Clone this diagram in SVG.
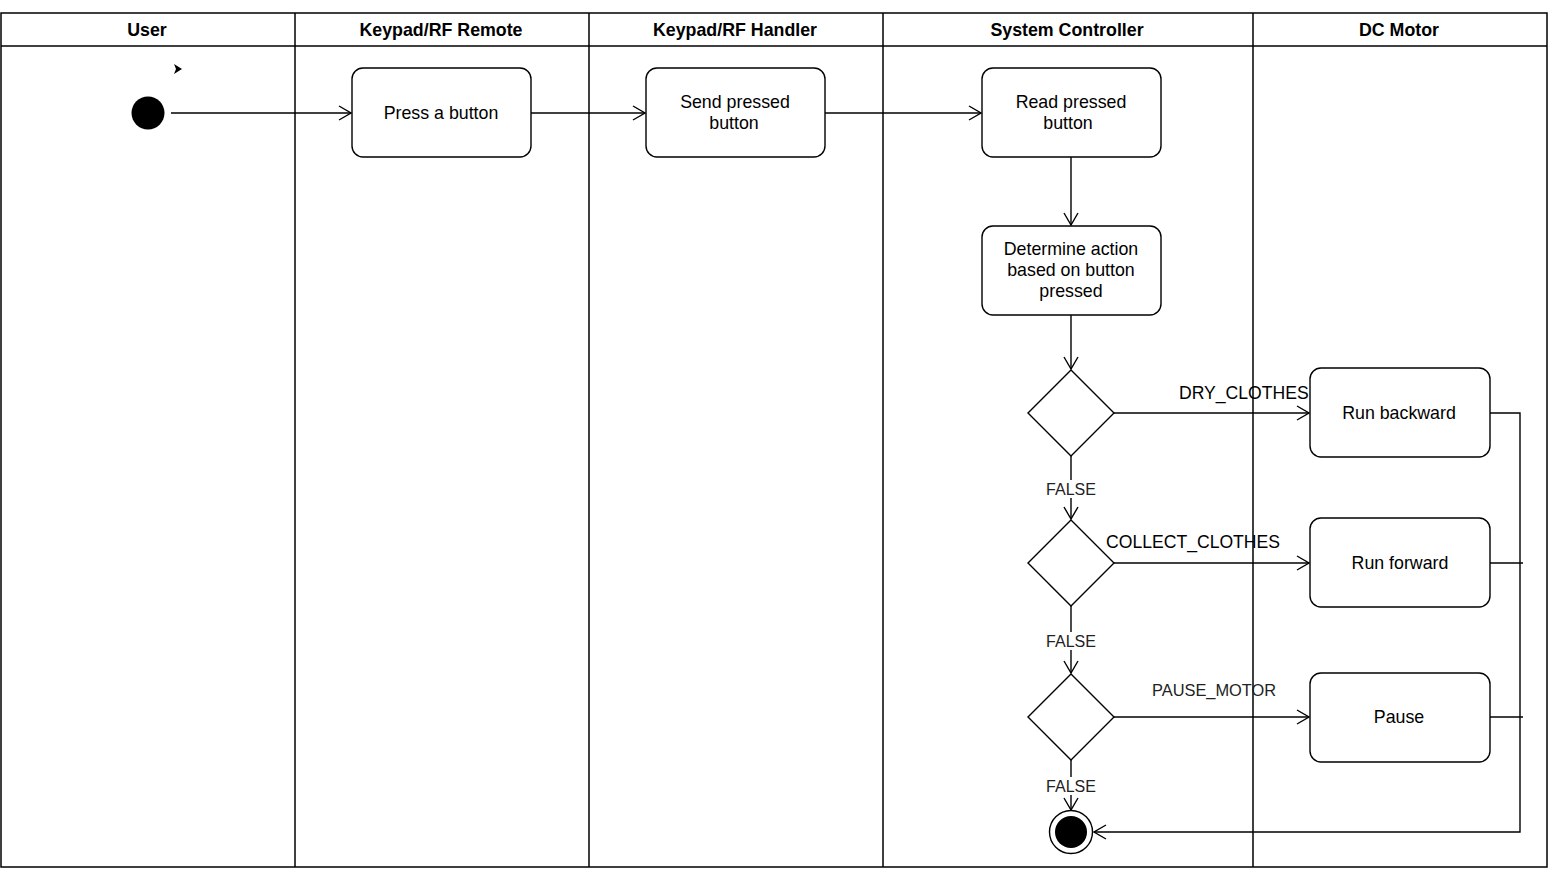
<svg xmlns="http://www.w3.org/2000/svg" width="1548" height="869" viewBox="0 0 1548 869">
  <style>
    .lane { fill: none; stroke: #000; stroke-width: 1.5; }
    .box { fill: #fff; stroke: #000; stroke-width: 1.4; }
    .edge { fill: none; stroke: #000; stroke-width: 1.4; }
    .hd { font-family: "Liberation Sans", Arial, sans-serif; font-size: 17.8px; font-weight: bold; text-anchor: middle; fill: #000; }
    .tx { font-family: "Liberation Sans", Arial, sans-serif; font-size: 17.8px; text-anchor: middle; fill: #000; }
    .lbl { font-family: "Liberation Sans", Arial, sans-serif; font-size: 17.6px; fill: #000; }
    .pm { font-family: "Liberation Sans", Arial, sans-serif; font-size: 16.4px; fill: #222; }
    .no { font-family: "Liberation Sans", Arial, sans-serif; font-size: 16px; text-anchor: middle; fill: #222; }
  </style>
  <defs>
    <marker id="open" viewBox="0 0 14 16" refX="13" refY="8" markerWidth="14" markerHeight="16" markerUnits="userSpaceOnUse" orient="auto">
      <path d="M1,1 L13,8 L1,15" fill="none" stroke="#000" stroke-width="1.4"/>
    </marker>
  </defs>
  <rect width="1548" height="869" fill="#fff"/>

  <!-- swimlanes -->
  <g id="lanes">
    <rect class="lane" x="1" y="13" width="1546" height="854"/>
    <line class="lane" x1="1" y1="46" x2="1547" y2="46"/>
    <line class="lane" x1="295" y1="13" x2="295" y2="867"/>
    <line class="lane" x1="589" y1="13" x2="589" y2="867"/>
    <line class="lane" x1="883" y1="13" x2="883" y2="867"/>
    <line class="lane" x1="1253" y1="13" x2="1253" y2="867"/>
    <text class="hd" x="147" y="36">User</text>
    <text class="hd" x="441" y="36">Keypad/RF Remote</text>
    <text class="hd" x="735" y="36">Keypad/RF Handler</text>
    <text class="hd" x="1067" y="36">System Controller</text>
    <text class="hd" x="1399" y="36">DC Motor</text>
  </g>

  <!-- connectors -->
  <g id="edges">
    <path d="M174,64 L182,69 L174,74 L176,69 Z" fill="#000"/>
    <line class="edge" x1="171" y1="113" x2="351" y2="113" marker-end="url(#open)"/>
    <line class="edge" x1="531" y1="113" x2="645" y2="113" marker-end="url(#open)"/>
    <line class="edge" x1="825" y1="113" x2="981" y2="113" marker-end="url(#open)"/>
    <line class="edge" x1="1071" y1="157" x2="1071" y2="225" marker-end="url(#open)"/>
    <line class="edge" x1="1071" y1="315" x2="1071" y2="369" marker-end="url(#open)"/>
    <line class="edge" x1="1114" y1="413" x2="1309" y2="413" marker-end="url(#open)"/>
    <line class="edge" x1="1071" y1="456" x2="1071" y2="519" marker-end="url(#open)"/>
    <line class="edge" x1="1114" y1="563" x2="1309" y2="563" marker-end="url(#open)"/>
    <line class="edge" x1="1071" y1="606" x2="1071" y2="673" marker-end="url(#open)"/>
    <line class="edge" x1="1114" y1="717" x2="1309" y2="717" marker-end="url(#open)"/>
    <line class="edge" x1="1071" y1="760" x2="1071" y2="810" marker-end="url(#open)"/>
    <polyline class="edge" points="1490,413 1520,413 1520,832 1094,832" marker-end="url(#open)"/>
    <line class="edge" x1="1490" y1="563" x2="1523" y2="563"/>
    <line class="edge" x1="1490" y1="717" x2="1523" y2="717"/>

    <text class="lbl" x="1179" y="399">DRY_CLOTHES</text>
    <text class="lbl" x="1106" y="548">COLLECT_CLOTHES</text>
    <text class="pm" x="1152" y="696">PAUSE_MOTOR</text>
    <rect x="1044" y="480" width="54" height="18" fill="#fff"/>
    <text class="no" x="1071" y="495">FALSE</text>
    <rect x="1044" y="632" width="54" height="18" fill="#fff"/>
    <text class="no" x="1071" y="647">FALSE</text>
    <rect x="1044" y="777" width="54" height="18" fill="#fff"/>
    <text class="no" x="1071" y="792">FALSE</text>
  </g>

  <!-- nodes -->
  <g id="start">
    <circle cx="148" cy="113" r="16.5" fill="#000"/>
  </g>
  <g id="press">
    <rect class="box" x="352" y="68" width="179" height="89" rx="11"/>
    <text class="tx" x="441" y="119">Press a button</text>
  </g>
  <g id="send">
    <rect class="box" x="646" y="68" width="179" height="89" rx="11"/>
    <text class="tx" x="735" y="108">Send pressed</text>
    <text class="tx" x="734" y="129">button</text>
  </g>
  <g id="read">
    <rect class="box" x="982" y="68" width="179" height="89" rx="11"/>
    <text class="tx" x="1071" y="108">Read pressed</text>
    <text class="tx" x="1068" y="129">button</text>
  </g>
  <g id="determine">
    <rect class="box" x="982" y="226" width="179" height="89" rx="11"/>
    <text class="tx" x="1071" y="255">Determine action</text>
    <text class="tx" x="1071" y="276">based on button</text>
    <text class="tx" x="1071" y="297">pressed</text>
  </g>
  <g id="decision1">
    <polygon class="box" points="1071,370 1114,413 1071,456 1028,413"/>
  </g>
  <g id="decision2">
    <polygon class="box" points="1071,520 1114,563 1071,606 1028,563"/>
  </g>
  <g id="decision3">
    <polygon class="box" points="1071,674 1114,717 1071,760 1028,717"/>
  </g>
  <g id="backward">
    <rect class="box" x="1310" y="368" width="180" height="89" rx="11"/>
    <text class="tx" x="1399" y="419">Run backward</text>
  </g>
  <g id="forward">
    <rect class="box" x="1310" y="518" width="180" height="89" rx="11"/>
    <text class="tx" x="1400" y="569">Run forward</text>
  </g>
  <g id="pause">
    <rect class="box" x="1310" y="673" width="180" height="89" rx="11"/>
    <text class="tx" x="1399" y="723">Pause</text>
  </g>
  <g id="end">
    <circle cx="1071" cy="832" r="21.5" fill="#fff" stroke="#000" stroke-width="1.4"/>
    <circle cx="1071" cy="832" r="16" fill="#000"/>
  </g>
</svg>
